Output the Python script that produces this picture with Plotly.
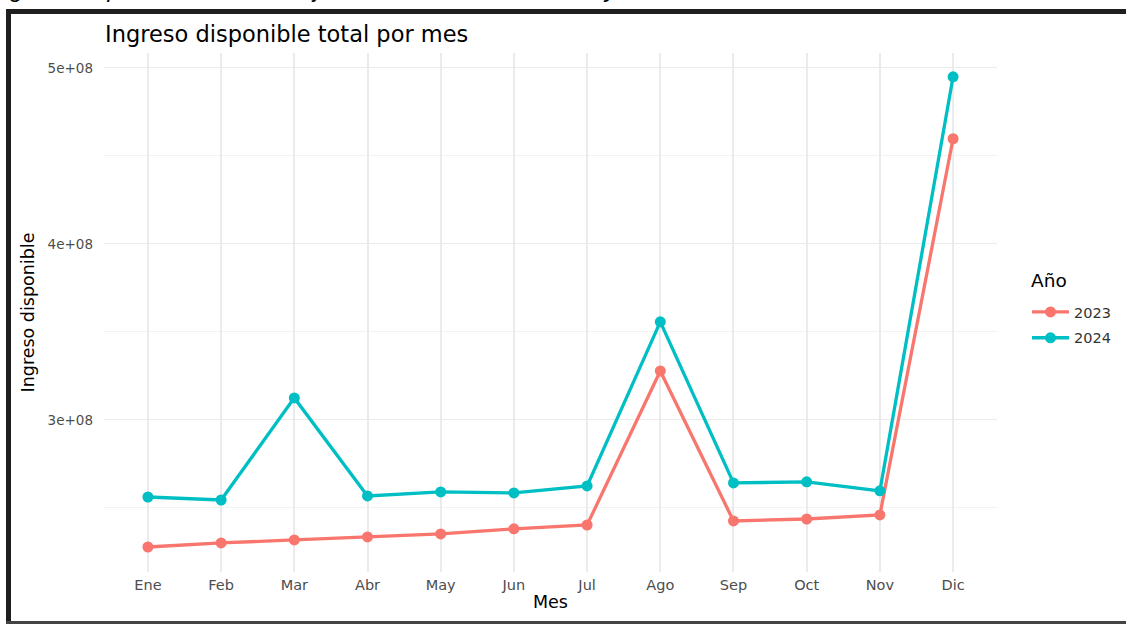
import plotly.graph_objects as go

meses = ["Ene", "Feb", "Mar", "Abr", "May", "Jun", "Jul", "Ago", "Sep", "Oct", "Nov", "Dic"]
ingreso_2023 = [2.278e8, 2.301e8, 2.318e8, 2.335e8, 2.352e8, 2.381e8, 2.403e8, 3.278e8, 2.426e8, 2.437e8, 2.460e8, 4.597e8]
ingreso_2024 = [2.562e8, 2.545e8, 3.125e8, 2.568e8, 2.591e8, 2.585e8, 2.625e8, 3.557e8, 2.642e8, 2.648e8, 2.597e8, 4.949e8]
y_ticks = [3e8, 4e8, 5e8]
y_ticklabels = ["3e+08", "4e+08", "5e+08"]

W, H = 1126, 624
L, R, T, B = 104, 997, 53, 572
pw, ph = R - L, B - T

def px(x):
    return (x - L) / pw

def py(y):
    return (B - y) / ph

FONT = "DejaVu Sans, Liberation Sans, sans-serif"

fig = go.Figure()
fig.add_trace(go.Scatter(x=meses, y=ingreso_2023, mode="lines+markers", name="2023", legendgroup="a",
                         line=dict(color="#F8766D", width=3.3), marker=dict(size=11, color="#F8766D")))
fig.add_trace(go.Scatter(x=meses, y=ingreso_2024, mode="lines+markers", name="2024", legendgroup="b",
                         line=dict(color="#00BFC4", width=3.3), marker=dict(size=11, color="#00BFC4")))

fig.update_layout(
    width=W, height=H,
    margin=dict(l=L, r=W - R, t=T, b=H - B, autoexpand=False),
    paper_bgcolor="white", plot_bgcolor="white",
    font=dict(family=FONT, color="black"),
    title=dict(text="Ingreso disponible total por mes", x=px(105), xanchor="left", xref="paper",
               y=1 - 34 / H, yanchor="middle", yref="container",
               font=dict(size=22.5, color="black")),
    legend=dict(x=px(1027), xanchor="left", y=py(325), yanchor="middle",
                font=dict(size=14.5, color="#333333"),
                bgcolor="rgba(0,0,0,0)", itemwidth=37, tracegroupgap=4),
    showlegend=True,
)
fig.update_xaxes(
    type="category", range=[-0.6, 11.6],
    showgrid=True, gridcolor="#EBEBEB", gridwidth=1.7,
    zeroline=False, showline=False, ticks="",
    ticklabelstandoff=2,
    tickfont=dict(size=14.5, color="#4D4D4D"),
    title=dict(text="Mes", font=dict(size=17.5, color="black"), standoff=4),
)
fig.update_yaxes(
    range=[2.136e8, 5.084e8],
    tickvals=y_ticks, ticktext=y_ticklabels,
    showgrid=True, gridcolor="#EBEBEB", gridwidth=1.4,
    minor=dict(dtick=1e8, tick0=2.5e8, showgrid=True, gridcolor="#F2F2F2", gridwidth=1.0),
    zeroline=False, showline=False, ticks="",
    ticklabelstandoff=10,
    tickfont=dict(size=13.5, color="#4D4D4D"),
    title=dict(text="Ingreso disponible", font=dict(size=17.5, color="black"), standoff=8),
)

# legend title
fig.add_annotation(text="Año", xref="paper", yref="paper", x=px(1029), y=py(280),
                   xanchor="left", yanchor="middle", showarrow=False,
                   font=dict(size=18.5, color="black"))

# document frame around the embedded chart
frame = [
    (6, 9, W, 14, "#1F1F1F"),
    (6, 9, 11, H, "#1F1F1F"),
    (6, 621, W, H, "#444444"),
]
for x0, y0, x1, y1, c in frame:
    fig.add_shape(type="rect", xref="paper", yref="paper",
                  x0=px(x0), x1=px(x1), y0=py(y1), y1=py(y0),
                  line=dict(width=0), fillcolor=c, layer="above")

# caption of the document, cut off at the top edge
fig.add_annotation(text="<i>Ingreso disponible total de los jubilados en los años 2023 y 2024</i>",
                   xref="paper", yref="paper", x=px(-12), y=py(4), xanchor="left", yanchor="bottom",
                   showarrow=False, font=dict(size=24, color="black", family="Liberation Sans"))

fig.write_html("out.html", config={"displayModeBar": False},
               post_script="document.body.style.margin='0';")
